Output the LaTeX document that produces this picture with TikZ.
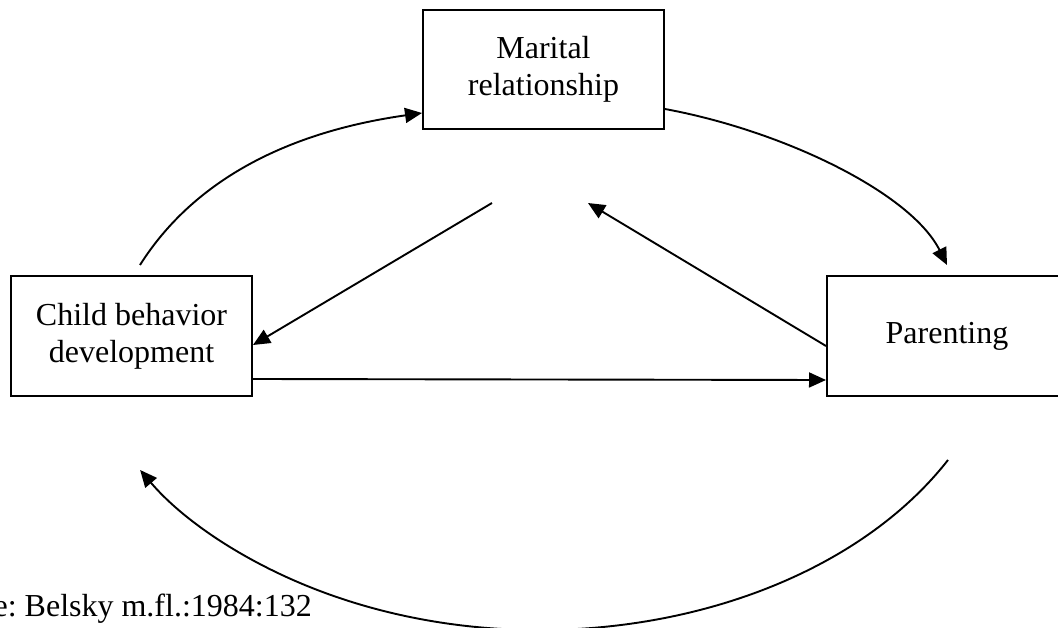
\documentclass[tikz,border=0pt]{standalone}
\usepackage{fontspec}
\setmainfont{Liberation Serif}
\usetikzlibrary{arrows.meta}
\tikzset{
  box/.style={draw, line width=2pt, inner sep=0pt, align=center,
    font=\fontsize{32}{37}\selectfont},
  conn/.style={line width=1.9pt, -{Triangle[length=17pt,width=15pt]}},
  lbl/.style={inner sep=0pt, font=\fontsize{32}{37}\selectfont}
}
\begin{document}
\frenchspacing
\begin{tikzpicture}[x=1pt,y=-1pt]
\clip (0,0) rectangle (1058,628);
\fill[white] (0,0) rectangle (1058,628);
\node[box, minimum width=241pt, minimum height=119pt] (mar) at (543.5,69.5) {Marital\\relationship};
\node[box, minimum width=241pt, minimum height=120pt] (child) at (131.5,336) {Child behavior\\development};
\node[box, minimum width=240pt, minimum height=120pt] (par) at (947,336) {Parenting};
\node[lbl, anchor=base east] (src) at (312,616) {e: Belsky m.fl.:1984:132};
\coordinate (tl) at (140,265);
\coordinate (mid1) at (492,203);
\coordinate (mid2) at (588,203);
\coordinate (trEnd) at (947,265);
\coordinate (bStart) at (948,460);
% top left curve
\draw[conn] (tl) .. controls (188,189) and (274,134) .. ([yshift=-43.5pt]mar.west);
% top right curve
\draw[conn] ([yshift=-39.5pt]mar.east) .. controls (784,131) and (911,193) .. (trEnd);
% diagonal to child
\draw[conn] (mid1) -- ([yshift=-9pt]child.east);
% diagonal from parenting
\draw[conn] ([yshift=-10pt]par.west) -- (mid2);
% horizontal
\draw[conn] ([yshift=-43pt]child.east) -- ([yshift=-44pt]par.west);
% bottom curve
\draw[conn] (bStart) arc[start angle=29, end angle=149, x radius=466.5, y radius=330];
\end{tikzpicture}
\end{document}
